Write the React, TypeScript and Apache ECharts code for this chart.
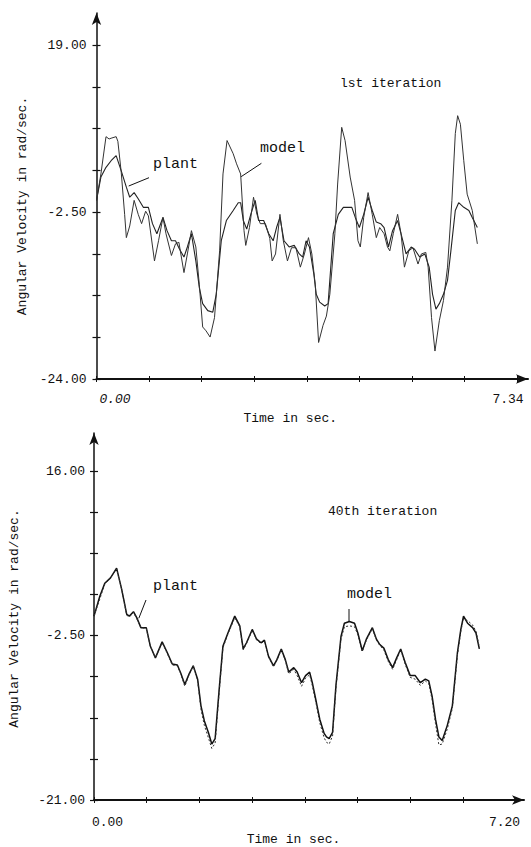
import React, { useEffect, useRef } from "react";
import * as echarts from "echarts";

// ---------- DATA ----------
// Top panel (1st iteration)
const topModelT = [0, 0.077, 0.166, 0.22, 0.255, 0.343, 0.373, 0.432, 0.491, 0.521, 0.58, 0.657, 0.728, 0.787, 0.858, 0.906, 1.012, 1.083, 1.16, 1.213, 1.308, 1.379, 1.438, 1.527, 1.586, 1.657, 1.734, 1.794, 1.853, 1.912, 1.983, 2.06, 2.149, 2.208, 2.279, 2.386, 2.445, 2.516, 2.575, 2.605, 2.67, 2.741, 2.8, 2.859, 2.948, 3.025, 3.066, 3.125, 3.202, 3.261, 3.333, 3.404, 3.481, 3.558, 3.629, 3.7, 3.759, 3.818, 3.877, 3.954, 4.013, 4.073, 4.161, 4.209, 4.28, 4.339, 4.428, 4.505, 4.564, 4.605, 4.664, 4.741, 4.813, 4.884, 4.943, 5.02, 5.079, 5.12, 5.18, 5.256, 5.316, 5.375, 5.452, 5.523, 5.612, 5.671, 5.748, 5.789, 5.848, 5.908, 5.984, 6.056, 6.127, 6.204, 6.263, 6.304, 6.352, 6.411, 6.47, 6.559, 6.648];
const topModelV = [-1.0, 2.4, 7.2, 6.9, 7.0, 7.2, 6.6, 2.6, -2.8, -5.8, -4.3, -1.0, -2.8, -4.0, -2.4, -3.0, -8.8, -6.2, -3.2, -5.3, -8.1, -6.6, -6.4, -10.3, -7.9, -4.9, -7.0, -11.8, -17.3, -17.8, -18.6, -16.1, -7.5, 2.4, 6.7, 5.0, 3.7, 2.4, -4.9, -6.8, -4.5, -0.6, -2.8, -4.0, -4.0, -5.9, -8.8, -7.9, -2.8, -6.2, -8.8, -7.1, -7.1, -9.6, -7.9, -5.8, -7.9, -11.8, -19.3, -17.1, -15.9, -13.1, -5.3, 1.1, 8.4, 6.7, 2.0, -1.0, -6.2, -7.0, -3.2, 0.0, -2.8, -5.8, -4.5, -5.3, -7.0, -7.5, -5.3, -2.8, -5.3, -9.6, -7.5, -7.1, -9.2, -7.9, -7.7, -9.6, -16.1, -20.4, -16.5, -13.9, -9.6, -1.0, 7.6, 9.9, 8.8, 4.1, -0.2, -2.3, -6.6];
const topPlantT = [0, 0.077, 0.166, 0.255, 0.343, 0.432, 0.521, 0.58, 0.657, 0.728, 0.817, 0.906, 0.977, 1.054, 1.16, 1.231, 1.308, 1.379, 1.45, 1.527, 1.586, 1.657, 1.734, 1.794, 1.853, 1.942, 2.03, 2.09, 2.178, 2.267, 2.386, 2.474, 2.516, 2.563, 2.622, 2.693, 2.77, 2.829, 2.918, 3.007, 3.084, 3.143, 3.202, 3.273, 3.362, 3.451, 3.54, 3.599, 3.658, 3.717, 3.794, 3.836, 3.895, 3.984, 4.043, 4.132, 4.221, 4.309, 4.457, 4.517, 4.588, 4.664, 4.741, 4.813, 4.884, 4.96, 5.02, 5.097, 5.168, 5.256, 5.333, 5.404, 5.493, 5.552, 5.641, 5.73, 5.807, 5.866, 5.925, 5.984, 6.056, 6.127, 6.186, 6.263, 6.322, 6.411, 6.5, 6.559, 6.648];
const topPlantV = [-1.0, 2.0, 3.25, 4.1, 4.75, 2.8, 0.7, -0.6, 0.0, -0.8, -1.9, -1.9, -4.0, -5.3, -3.2, -4.9, -6.2, -6.2, -7.3, -8.3, -7.0, -5.3, -8.8, -12.2, -14.3, -15.2, -15.4, -13.1, -6.2, -3.6, -2.3, -1.3, -1.3, -3.6, -4.7, -2.8, -1.0, -3.6, -3.6, -5.3, -6.2, -4.5, -3.2, -6.2, -7.0, -6.8, -7.9, -8.3, -6.2, -7.0, -10.5, -13.1, -14.1, -14.6, -14.3, -5.3, -2.8, -1.9, -1.9, -3.2, -4.5, -2.8, -0.6, -2.3, -3.8, -4.0, -4.5, -7.0, -4.9, -3.6, -5.8, -7.9, -7.0, -7.3, -8.3, -7.9, -9.6, -13.1, -15.0, -14.3, -13.1, -11.3, -7.5, -2.3, -1.3, -1.9, -2.3, -3.2, -4.5];

// Bottom panel (40th iteration)
const botT = [0, 0.098, 0.184, 0.282, 0.386, 0.473, 0.559, 0.605, 0.674, 0.732, 0.801, 0.893, 0.963, 1.049, 1.164, 1.251, 1.337, 1.424, 1.481, 1.551, 1.625, 1.695, 1.77, 1.827, 1.885, 1.954, 2.012, 2.069, 2.144, 2.202, 2.288, 2.404, 2.49, 2.548, 2.605, 2.703, 2.778, 2.853, 2.911, 2.98, 3.066, 3.124, 3.199, 3.268, 3.326, 3.412, 3.47, 3.545, 3.614, 3.683, 3.729, 3.798, 3.856, 3.931, 3.971, 4.017, 4.075, 4.133, 4.219, 4.277, 4.363, 4.45, 4.507, 4.582, 4.652, 4.755, 4.824, 4.882, 4.951, 5.026, 5.101, 5.17, 5.239, 5.314, 5.401, 5.487, 5.574, 5.66, 5.718, 5.775, 5.833, 5.891, 5.948, 6.035, 6.121, 6.208, 6.266, 6.312, 6.381, 6.467, 6.525, 6.582];
const botPlant = [-0.3, 1.9, 3.4, 4.0, 5.1, 2.7, -0.1, -0.3, 0.2, -0.5, -1.6, -1.6, -3.7, -5.0, -3.2, -4.4, -5.7, -5.8, -6.7, -8.0, -6.8, -5.9, -7.4, -10.4, -12.1, -13.4, -14.7, -14.1, -8.1, -3.7, -2.2, -0.3, -1.4, -4.0, -3.3, -1.8, -2.9, -3.3, -3.0, -4.8, -5.9, -5.2, -4.0, -5.2, -6.6, -6.1, -6.6, -7.8, -7.0, -6.6, -7.8, -10.0, -11.9, -13.5, -13.9, -14.1, -13.4, -8.1, -2.6, -1.1, -0.9, -1.1, -2.2, -4.2, -2.9, -1.6, -2.9, -3.5, -3.9, -5.2, -6.1, -5.0, -4.0, -5.5, -7.0, -7.0, -7.8, -7.4, -7.6, -9.3, -11.9, -13.9, -14.3, -12.6, -10.4, -4.4, -1.8, -0.3, -1.1, -1.6, -2.2, -4.0];
const botModel = [-0.3, 1.6, 3.3, 4.0, 5.0, 2.7, -0.2, -0.4, 0.1, -0.6, -1.6, -1.7, -3.7, -5.0, -3.3, -4.5, -5.8, -5.9, -6.8, -8.2, -6.9, -5.9, -7.6, -10.8, -12.6, -14.0, -15.2, -14.6, -8.4, -3.9, -2.3, -0.5, -1.5, -4.1, -3.4, -1.9, -3.0, -3.4, -3.1, -4.9, -6.0, -5.3, -4.1, -5.3, -6.8, -6.3, -7.0, -8.2, -7.3, -6.9, -8.1, -10.3, -12.3, -14.0, -14.5, -14.7, -13.8, -8.4, -2.9, -1.5, -1.4, -1.5, -2.4, -4.3, -3.0, -1.7, -3.0, -3.6, -4.1, -5.4, -6.3, -5.2, -4.1, -5.7, -7.2, -7.4, -8.1, -7.6, -7.9, -9.7, -12.4, -14.8, -14.7, -13.0, -10.7, -4.7, -2.0, -0.6, -0.8, -1.3, -2.0, -3.8];

// Ticks and labels
const topYTicks = [-24, -18.625, -13.25, -7.875, -2.5, 2.875, 8.25, 13.625, 19];
const topYLabels = [-24, -2.5, 19];
const topXTicks = [0, 0.9175, 1.835, 2.7525, 3.67, 4.5875, 5.505, 6.4225, 7.34];
const topXLabels = [0, 7.34];
const botYTicks = [-21, -16.375, -11.75, -7.125, -2.5, 2.125, 6.75, 11.375, 16];
const botYLabels = [-21, -2.5, 16];
const botXTicks = [0, 0.9, 1.8, 2.7, 3.6, 4.5, 5.4, 6.3, 7.2];
const botXLabels = [0, 7.2];

const FONT = '"Liberation Mono", "DejaVu Sans Mono", monospace';
const INK = "#111";

const zip = (t: number[], v: number[]) => t.map((x, i) => [x, v[i]]);

function buildOption() {
  const grids = [
    { left: 96.5, top: 13, width: 431.5, height: 366 },
    { left: 93, top: 433, width: 431, height: 375 },
  ];
  const ranges = [
    { xMax: 7.532, yMin: -24, yMax: 23.12, xt: topXTicks, xl: topXLabels, yt: topYTicks, yl: topYLabels, xw: 2, yw: 1.5 },
    { xMax: 7.345, yMin: -21, yMax: 20.31, xt: botXTicks, xl: botXLabels, yt: botYTicks, yl: botYLabels, xw: 2, yw: 1.5 },
  ];
  const xLabelRich = [
    { a: { fontFamily: FONT, fontSize: 13, color: INK, fontStyle: "italic", padding: [0, 0, 0, 37] }, b: { fontFamily: FONT, fontSize: 13, color: INK, padding: [0, 18, 0, 0] } },
    { a: { fontFamily: FONT, fontSize: 13, color: INK, padding: [0, 0, 0, 27] }, b: { fontFamily: FONT, fontSize: 13, color: INK, padding: [0, 22, 0, 0] } },
  ];
  const xNamePad = [[0, 44, 0, 0], [0, 31, 0, 0]];
  const xNameGap = [33, 33];
  const xLabelMargin = [14, 16];
  const yNamePad = [[0, 20, 0, 0], [0, 4, 0, 0]];
  const yNameGap = [68, 73];
  const yLabelMargin = [10, 9];

  const xAxis: any[] = [];
  const yAxis: any[] = [];
  ranges.forEach((r, g) => {
    xAxis.push({
      type: "value", gridIndex: g, position: "bottom", min: 0, max: r.xMax,
      name: "Time in sec.", nameLocation: "middle", nameGap: xNameGap[g],
      nameTextStyle: { fontFamily: FONT, fontSize: 13, color: INK, padding: xNamePad[g] },
      axisLine: { show: true, onZero: false, symbol: ["none", "arrow"], symbolSize: [7, 12], lineStyle: { color: INK, width: r.xw } },
      axisTick: { show: true, inside: false, length: 3, customValues: r.xt, lineStyle: { color: INK, width: 1 } },
      axisLabel: {
        show: true, margin: xLabelMargin[g], customValues: r.xl,
        formatter: (v: number) => (v < 1 ? "{a|" + v.toFixed(2) + "}" : "{b|" + v.toFixed(2) + "}"),
        rich: xLabelRich[g],
      },
      splitLine: { show: false },
    });
    xAxis.push({
      type: "value", gridIndex: g, position: "bottom", min: 0, max: r.xMax,
      axisLine: { show: false, onZero: false },
      axisTick: { show: true, inside: true, length: 3, customValues: r.xt, lineStyle: { color: INK, width: 1 } },
      axisLabel: { show: false },
      splitLine: { show: false },
    });
    yAxis.push({
      type: "value", gridIndex: g, position: "left", min: r.yMin, max: r.yMax,
      name: "Angular Velocity in rad/sec.", nameLocation: "middle", nameRotate: 90, nameGap: yNameGap[g],
      nameTextStyle: { fontFamily: FONT, fontSize: 13, color: INK, padding: yNamePad[g] },
      axisLine: { show: true, onZero: false, symbol: ["none", "arrow"], symbolSize: [7, 12], lineStyle: { color: INK, width: r.yw } },
      axisTick: { show: true, inside: false, length: 4, customValues: r.yt, lineStyle: { color: INK, width: 1.2 } },
      axisLabel: {
        show: true, margin: yLabelMargin[g], customValues: r.yl,
        formatter: (v: number) => v.toFixed(2),
        fontFamily: FONT, fontSize: 13, color: INK,
      },
      splitLine: { show: false },
    });
    yAxis.push({
      type: "value", gridIndex: g, position: "left", min: r.yMin, max: r.yMax,
      axisLine: { show: false, onZero: false },
      axisTick: { show: true, inside: true, length: 4, customValues: r.yt, lineStyle: { color: INK, width: 1.2 } },
      axisLabel: { show: false },
      splitLine: { show: false },
    });
  });

  const series = [
    { name: "plant", type: "line", xAxisIndex: 0, yAxisIndex: 0, data: zip(topPlantT, topPlantV), symbol: "none", lineStyle: { color: "#222", width: 1.1 } },
    { name: "model", type: "line", xAxisIndex: 0, yAxisIndex: 0, data: zip(topModelT, topModelV), symbol: "none", lineStyle: { color: "#333", width: 1 } },
    { name: "plant", type: "line", xAxisIndex: 2, yAxisIndex: 2, data: zip(botT, botPlant), symbol: "none", lineStyle: { color: "#111", width: 1.5 } },
    { name: "model", type: "line", xAxisIndex: 2, yAxisIndex: 2, data: zip(botT, botModel), symbol: "none", lineStyle: { color: "#333", width: 1, type: [2, 2] } },
  ];

  const txt = (text: string, x: number, y: number, size: number) => ({
    type: "text", x, y, silent: true,
    style: { text, fill: INK, font: `${size}px ${FONT}`, align: "left", verticalAlign: "middle" },
  });
  const ln = (x1: number, y1: number, x2: number, y2: number) => ({
    type: "line", silent: true, shape: { x1, y1, x2, y2 }, style: { stroke: INK, lineWidth: 1 },
  });

  const graphic = [
    txt("lst iteration", 340, 83, 13),
    txt("plant", 153, 164, 15),
    ln(149, 177.7, 128.7, 186),
    txt("model", 260, 148, 15),
    ln(261.4, 163.3, 241.1, 176.7),
    txt("40th iteration", 328, 511, 13),
    txt("plant", 153, 586, 15),
    ln(146, 600, 138.8, 618.3),
    txt("model", 347, 594, 15),
    ln(349, 609, 349, 621.7),
  ];

  return {
    animation: false,
    backgroundColor: "#ffffff",
    grid: grids,
    xAxis,
    yAxis,
    series,
    graphic,
  };
}

export default function App() {
  const ref = useRef<HTMLDivElement>(null);
  useEffect(() => {
    if (!ref.current) return;
    const chart = echarts.init(ref.current, null, { renderer: "svg" });
    chart.setOption(buildOption() as any);
    return () => chart.dispose();
  }, []);
  return (
    <div
      ref={ref}
      style={{ position: "fixed", left: 0, top: 0, width: 531, height: 847, background: "#fff" }}
    />
  );
}
